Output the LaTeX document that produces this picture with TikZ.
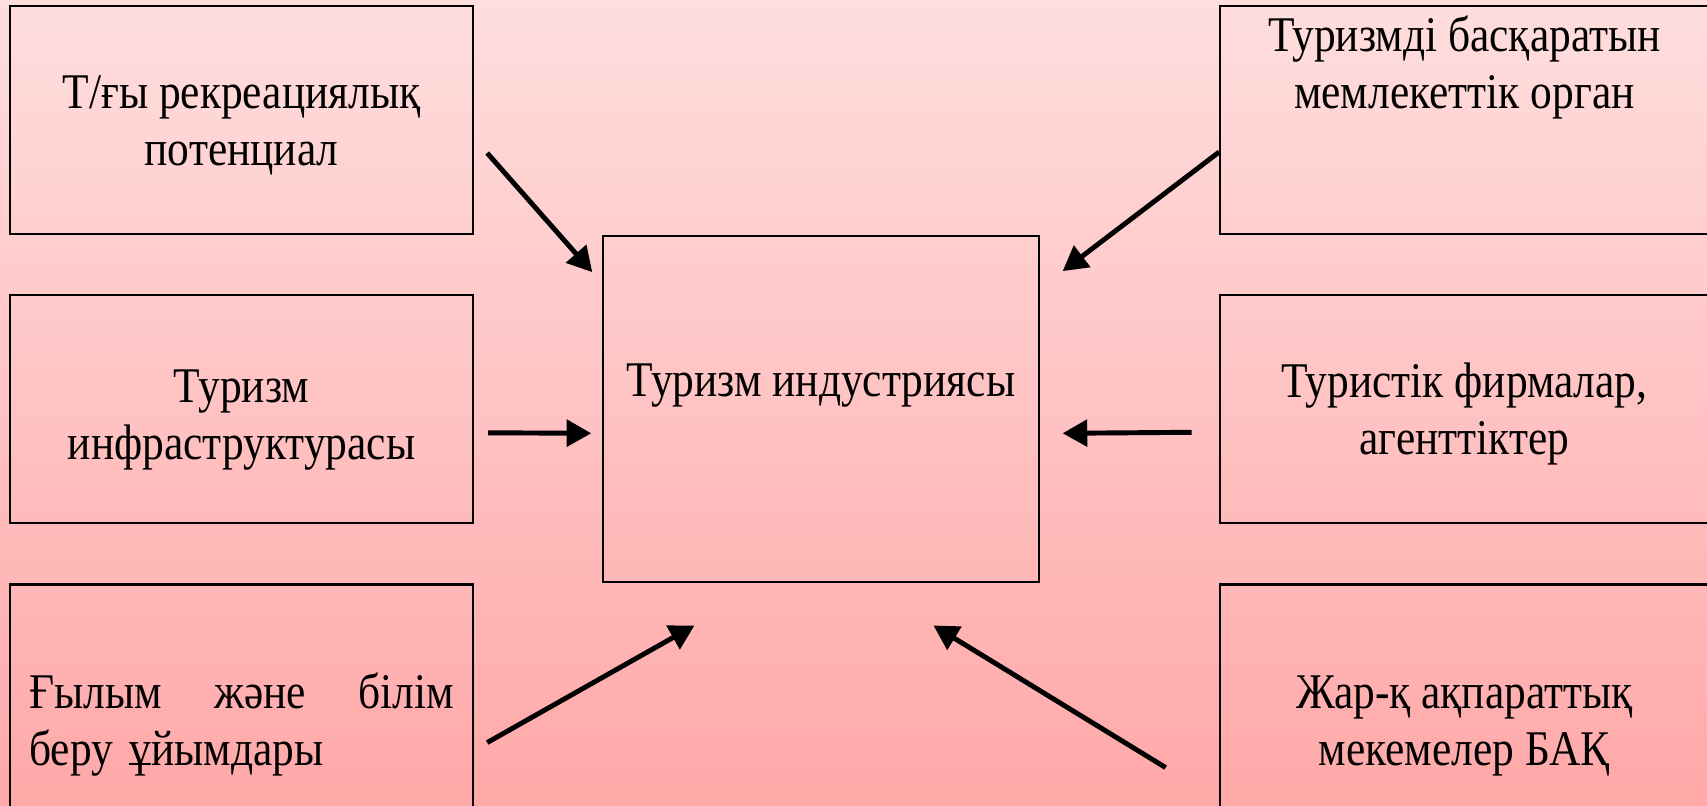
\documentclass[tikz,border=0pt]{standalone}
\usepackage{fontspec}
\setmainfont{Liberation Serif}[FakeStretch=0.87]
\usetikzlibrary{arrows.meta, positioning}
\definecolor{bgtop}{RGB}{255,222,222}
\definecolor{bgbot}{RGB}{255,168,168}
\tikzset{
  box/.style={rectangle,draw=black,line width=0.6pt,inner sep=0pt,
    minimum width=4.63cm,minimum height=2.28cm,align=center,
    font=\fontsize{14.2}{16.2}\selectfont,text height=0.9cm,text depth=0pt},
  rbox/.style={box,minimum width=4.88cm},
  midbox/.style={box,minimum width=4.35cm,minimum height=3.46cm},
  arrow/.style={-{Triangle[length=7pt,width=7.5pt]},line width=1.4pt,draw=black}
}

\begin{document}
\begin{tikzpicture}[x=0.01cm,y=-0.01cm]
  \useasboundingbox (0,0) rectangle (1707,805);
  \clip (0,0) rectangle (1707,805);
  \fill[top color=bgtop,bottom color=bgbot] (0,0) rectangle (1707,805);

  \node[box] (tp) at (241.5,120)
    {Т/ғы рекреациялық\\ потенциал};
  \node[box,text height=1.01cm,below=0.59cm of tp] (inf)
    {Туризм\\ инфраструктурасы};
  \node[box,text height=0.35cm,text depth=0.15cm,below=0.59cm of inf,
    align=left,text width=4.24cm] (sci)
    {Ғылым\hfill және\hfill білім\\ беру ұйымдары};
  \node[midbox,text height=0.35cm,text depth=0.61cm,right=1.28cm of inf] (ind)
    {Туризм индустриясы};
  \node[rbox,text height=0.35cm,text depth=0.59cm,right=7.445cm of tp] (gov)
    {Туризмді басқаратын\\ мемлекеттік орган};
  \node[rbox,below=0.59cm of gov] (firm)
    {Туристік фирмалар,\\ агенттіктер};
  \node[rbox,text height=1.34cm,below=0.59cm of firm] (media)
    {Жар-қ ақпараттық\\ мекемелер БАҚ};

  \draw[arrow] ([shift={(13,33)}]tp.east) -- ([shift={(-10,37)}]ind.north west);
  \draw[arrow] ([shift={(14,23.5)}]inf.east) -- ([shift={(-11,24)}]ind.west);
  \draw[arrow] ([shift={(13,44)}]sci.east) -- ([shift={(-126.5,42)}]ind.south);
  \draw[arrow] ([shift={(0,32)}]gov.west) -- ([shift={(23,36)}]ind.north east);
  \draw[arrow] ([shift={(-27.5,23)}]firm.west) -- ([shift={(23,24)}]ind.east);
  \draw[arrow] ([shift={(-53.5,69)}]media.west) -- ([shift={(112.5,42)}]ind.south);
\end{tikzpicture}
\end{document}
